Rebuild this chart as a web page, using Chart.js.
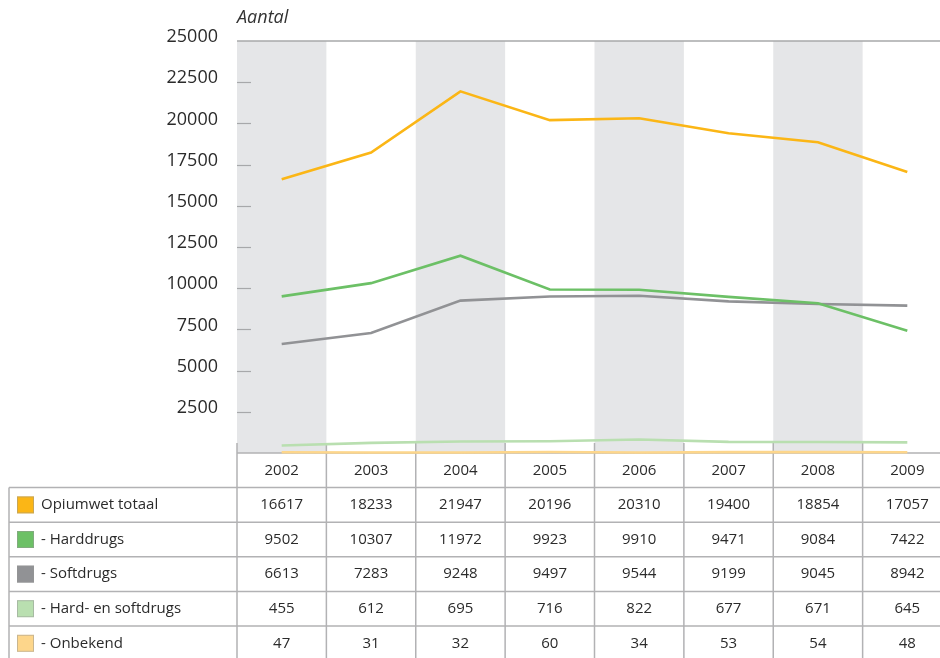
<!DOCTYPE html>
<html>
<head>
<meta charset="utf-8">
<script src="https://cdn.jsdelivr.net/npm/chart.js@4/dist/chart.umd.min.js"></script>
<style>
  html, body { margin: 0; padding: 0; background: #fff; overflow: hidden; }
  #wrap { width: 952px; height: 658px; position: relative; }
</style>
</head>
<body>
<div id="wrap"><canvas id="opium-chart"></canvas></div>
<script>
// Years and counts per category
const years = ['2002', '2003', '2004', '2005', '2006', '2007', '2008', '2009'];
const totaal = [16617, 18233, 21947, 20196, 20310, 19400, 18854, 17057];
const harddrugs = [9502, 10307, 11972, 9923, 9910, 9471, 9084, 7422];
const softdrugs = [6613, 7283, 9248, 9497, 9544, 9199, 9045, 8942];
const hardEnSoft = [455, 612, 695, 716, 822, 677, 671, 645];
const onbekend = [47, 31, 32, 60, 34, 53, 54, 48];

const yTicks = [0, 2500, 5000, 7500, 10000, 12500, 15000, 17500, 20000, 22500, 25000];

const FONT = '"Open Sans", "DejaVu Sans", sans-serif';
const LINE_GREY = '#b2b2b4';
const ROW_H = 34.6;

// Grey bands, axis ticks and the data table under the plot
const backdrop = {
  id: 'backdrop',
  beforeDatasetsDraw(chart) {
    const ctx = chart.ctx;
    const area = chart.chartArea;
    const x = chart.scales.x;
    const y = chart.scales.y;
    const colW = x.getPixelForValue(1) - x.getPixelForValue(0);
    const right = chart.width;

    ctx.save();
    // alternating columns
    ctx.fillStyle = '#e5e6e8';
    years.forEach((yr, i) => {
      if (i % 2 === 0) {
        const cx = x.getPixelForValue(i);
        ctx.fillRect(cx - colW / 2, area.top, colW, area.bottom - area.top);
      }
    });

    // top line
    ctx.strokeStyle = '#a7a8aa';
    ctx.lineWidth = 1.5;
    ctx.beginPath();
    ctx.moveTo(area.left, area.top);
    ctx.lineTo(right, area.top);
    ctx.stroke();

    // short tick marks inside the plot
    ctx.strokeStyle = '#a7a8aa';
    ctx.lineWidth = 1.2;
    yTicks.forEach(v => {
      if (v === 0 || v === 25000) return;
      const py = Math.round(y.getPixelForValue(v)) + 0.5;
      ctx.beginPath();
      ctx.moveTo(area.left, py);
      ctx.lineTo(area.left + 14, py);
      ctx.stroke();
    });

    // axis title
    ctx.fillStyle = '#333';
    ctx.font = 'italic 18px ' + FONT;
    ctx.textAlign = 'left';
    ctx.textBaseline = 'middle';
    ctx.fillText('Aantal', area.left, 18);

    // table grid
    const top = area.bottom;
    const rows = chart.data.datasets;
    ctx.strokeStyle = LINE_GREY;
    ctx.lineWidth = 1.5;
    ctx.beginPath();
    ctx.moveTo(area.left, top);
    ctx.lineTo(right, top);
    for (let r = 0; r < rows.length; r++) {
      const ry = top + ROW_H * (r + 1);
      ctx.moveTo(9, ry);
      ctx.lineTo(right, ry);
    }
    ctx.moveTo(9, top + ROW_H);
    ctx.lineTo(9, chart.height);
    for (let i = 0; i <= years.length; i++) {
      const vx = x.getPixelForValue(i) - colW / 2;
      ctx.moveTo(vx, top - 10);
      ctx.lineTo(vx, chart.height);
    }
    ctx.stroke();

    // header row
    ctx.fillStyle = '#2b2b2b';
    ctx.font = '15px ' + FONT;
    ctx.textAlign = 'center';
    years.forEach((yr, i) => {
      ctx.fillText(yr, x.getPixelForValue(i), top + ROW_H / 2);
    });

    // data rows with swatches
    rows.forEach((ds, r) => {
      const cy = top + ROW_H * (r + 1.5);
      ctx.fillStyle = ds.borderColor;
      ctx.fillRect(17, cy - 8.5, 17, 17);
      ctx.strokeStyle = 'rgba(150,150,150,0.5)';
      ctx.lineWidth = 1;
      ctx.strokeRect(17.5, cy - 8, 16, 16);
      ctx.fillStyle = '#2b2b2b';
      ctx.textAlign = 'left';
      ctx.fillText(ds.label, 41, cy);
      ctx.textAlign = 'center';
      ds.data.forEach((v, i) => {
        ctx.fillText(String(v), x.getPixelForValue(i), cy);
      });
    });
    ctx.restore();
  }
};

function series(label, data, color) {
  return {
    label: label,
    data: data,
    borderColor: color,
    backgroundColor: color,
    borderWidth: 2.6,
    pointRadius: 0,
    tension: 0,
    clip: 4
  };
}

const chart = new Chart('opium-chart', {
  type: 'line',
  data: {
    labels: years,
    datasets: [
      series('Opiumwet totaal', totaal, '#fbb616'),
      series('- Harddrugs', harddrugs, '#6cc066'),
      series('- Softdrugs', softdrugs, '#919295'),
      series('- Hard- en softdrugs', hardEnSoft, '#b9dfb0'),
      series('- Onbekend', onbekend, '#fdd68b')
    ]
  },
  options: {
    responsive: true,
    maintainAspectRatio: false,
    animation: false,
    layout: { padding: { top: 41, bottom: 205, left: 0, right: 0 } },
    plugins: { legend: { display: false }, tooltip: { enabled: false } },
    scales: {
      x: {
        display: false,
        offset: true
      },
      y: {
        min: 0,
        max: 25000,
        afterFit(scale) { scale.width = 237; },
        afterBuildTicks(scale) { scale.ticks = yTicks.map(v => ({ value: v })); },
        ticks: {
          padding: 11,
          labelOffset: -4,
          color: '#2b2b2b',
          font: { family: FONT, size: 18 },
          callback: v => (v === 0 ? '' : String(v))
        },
        grid: { display: false },
        border: { display: false }
      }
    }
  },
  plugins: [backdrop]
});
</script>
</body>
</html>
